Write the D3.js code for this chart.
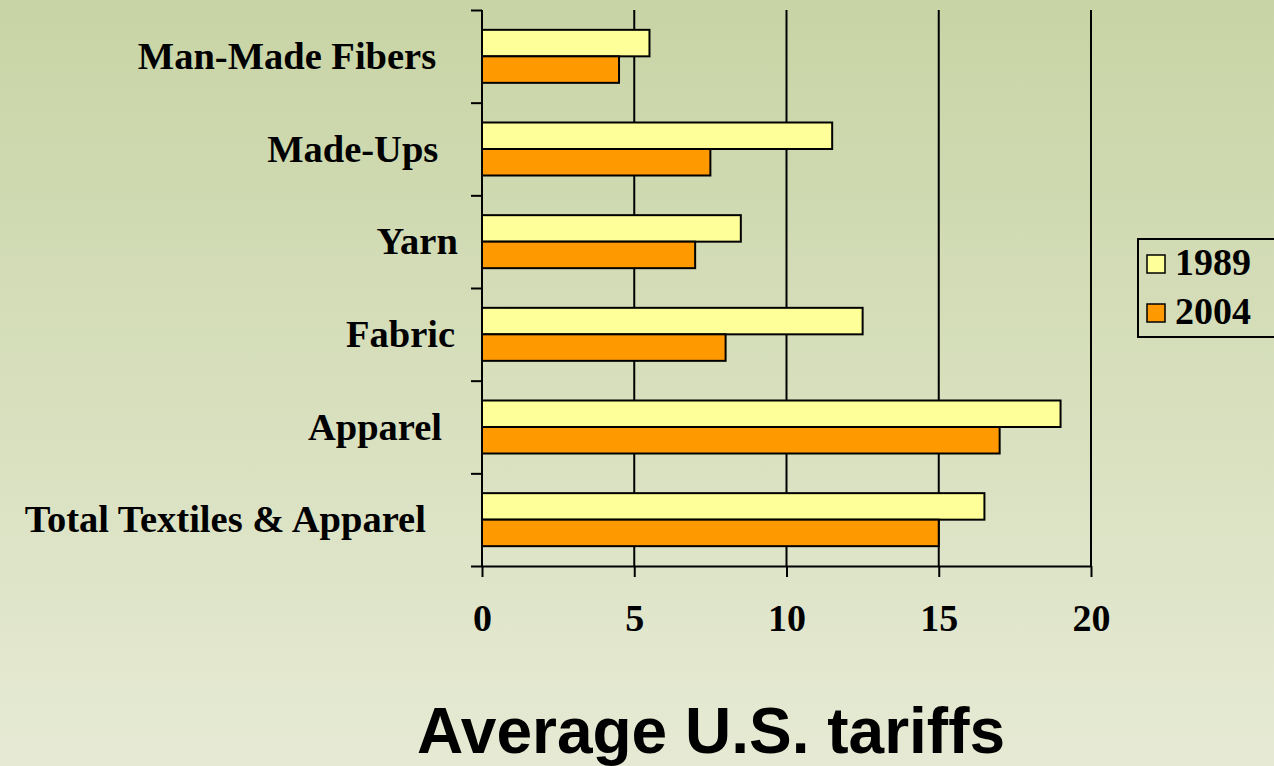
<!DOCTYPE html>
<html>
<head>
<meta charset="utf-8">
<script src="https://cdn.jsdelivr.net/npm/d3@7"></script>
<style>
  html, body { margin: 0; padding: 0; overflow: hidden; }
  svg { display: block; }
</style>
</head>
<body>
<svg id="chart" width="1274" height="766"></svg>
<script>
// ---- data ----
const categories = ["Man-Made Fibers", "Made-Ups ", "Yarn", "Fabric", "Apparel ", "Total Textiles & Apparel"];
const seriesNames = ["1989", "2004"];
const values1989 = [5.5, 11.5, 8.5, 12.5, 19, 16.5];
const values2004 = [4.5, 7.5, 7, 8, 17, 15];
const xTicks = [0, 5, 10, 15, 20];
const titleText = "Average U.S. tariffs";
const seriesColors = ["#ffff99", "#ff9900"];

const W = 1274, H = 766;
const svg = d3.select("#chart");

// background gradient
const defs = svg.append("defs");
const grad = defs.append("linearGradient").attr("id", "bg").attr("x1", 0).attr("y1", 0).attr("x2", 0).attr("y2", 1);
grad.append("stop").attr("offset", "0%").attr("stop-color", "#c8d4a5");
grad.append("stop").attr("offset", "100%").attr("stop-color", "#e6ead4");
svg.append("rect").attr("width", W).attr("height", H).attr("fill", "url(#bg)");

const plot = { left: 482, right: 1091, top: 10, bottom: 566 };

const x = d3.scaleLinear().domain([0, 20]).range([plot.left, plot.right]);
const y = d3.scaleBand().domain(categories).range([plot.top, plot.bottom])
  .paddingInner(0.428).paddingOuter(0.214);
const ySub = d3.scaleBand().domain(seriesNames).range([0, y.bandwidth()]);
const yEdge = d3.scaleLinear().domain([0, categories.length]).range([plot.top, plot.bottom]);

const serif = "'Liberation Serif', 'Times New Roman', serif";

// gridlines
svg.append("g").selectAll("line").data(xTicks.filter(d => d > 0)).join("line")
  .attr("x1", d => x(d)).attr("x2", d => x(d))
  .attr("y1", plot.top).attr("y2", plot.bottom)
  .attr("stroke", "#000").attr("stroke-width", 2);

// bars
const rows = categories.map((c, i) => ({ cat: c, vals: [values1989[i], values2004[i]] }));
const g = svg.append("g").selectAll("g").data(rows).join("g")
  .attr("transform", d => `translate(0,${y(d.cat)})`);
g.selectAll("rect").data(d => d.vals.map((v, j) => ({ v, s: seriesNames[j], j }))).join("rect")
  .attr("x", x(0))
  .attr("y", d => ySub(d.s))
  .attr("width", d => x(d.v) - x(0))
  .attr("height", ySub.bandwidth())
  .attr("fill", d => seriesColors[d.j])
  .attr("stroke", "#000").attr("stroke-width", 2);

// y axis (ticks at band boundaries)
const yAxis = svg.append("g").attr("transform", `translate(${plot.left},0)`)
  .call(d3.axisLeft(yEdge).tickValues(d3.range(0, categories.length + 1)).tickSize(11).tickFormat(""));
yAxis.selectAll("path, line").attr("stroke", "#000").attr("stroke-width", 2);
yAxis.select(".domain").attr("d", `M0,${plot.top}V${plot.bottom}`);

// x axis
const xAxis = svg.append("g").attr("transform", `translate(0,${plot.bottom})`)
  .call(d3.axisBottom(x).tickValues(xTicks).tickSize(11).tickSizeOuter(0).tickPadding(26));
xAxis.selectAll("path, line").attr("stroke", "#000").attr("stroke-width", 2);
xAxis.selectAll("text")
  .attr("font-family", serif).attr("font-weight", "bold").attr("font-size", 38)
  .attr("fill", "#000").attr("dy", null).attr("y", 65);

// category labels
const labels = svg.append("g").selectAll("text").data(categories).join("text")
  .attr("font-family", serif).attr("font-weight", "bold").attr("font-size", 38.5)
  .attr("fill", "#000").style("white-space", "pre")
  .attr("y", d => y(d) + y.bandwidth() / 2 + 12.5)
  .text(d => d);
labels.attr("x", function () { return 466 - 1.1 * this.getComputedTextLength(); });

// legend
const lg = svg.append("g").attr("transform", "translate(1138,239)");
lg.append("rect").attr("x", 0).attr("y", 0).attr("width", 150).attr("height", 98)
  .attr("fill", "none").attr("stroke", "#000").attr("stroke-width", 2);
const li = lg.selectAll("g.item").data(seriesNames).join("g").attr("class", "item")
  .attr("transform", (d, i) => `translate(0,${i * 49})`);
li.append("rect").attr("x", 9).attr("y", 16).attr("width", 18).attr("height", 18)
  .attr("fill", (d, i) => seriesColors[i]).attr("stroke", "#000").attr("stroke-width", 1.5);
li.append("text").attr("x", 37).attr("y", 36)
  .attr("font-family", serif).attr("font-weight", "bold").attr("font-size", 38).attr("fill", "#000")
  .text(d => d);

// title
svg.append("text").attr("x", 711).attr("y", 753).attr("text-anchor", "middle")
  .attr("font-family", "'Liberation Sans', Arial, sans-serif").attr("font-weight", "bold")
  .attr("font-size", 64).attr("fill", "#000").text(titleText);
</script>
</body>
</html>
